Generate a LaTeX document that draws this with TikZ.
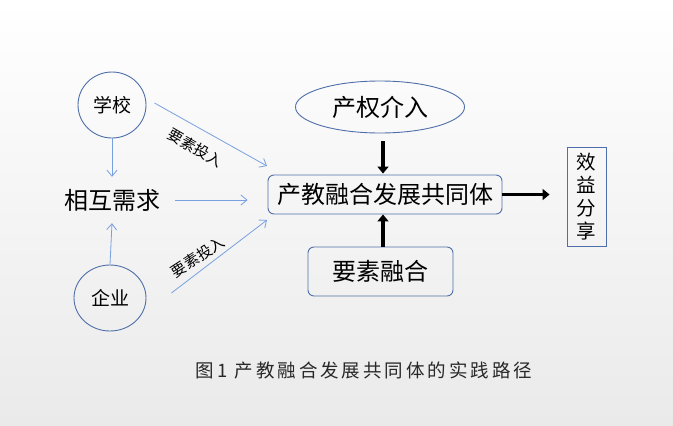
\documentclass[tikz,border=0pt]{standalone}
\usepackage{fontspec}
\newfontfamily\cjk{Noto Sans CJK SC}
\newfontfamily\capfont[LetterSpace=16]{Noto Sans CJK SC}
\usetikzlibrary{shapes.geometric,arrows.meta}
\definecolor{edgeblue}{RGB}{79,111,170}
\definecolor{arrowblue}{RGB}{120,160,225}
\definecolor{bgbot}{RGB}{234,234,234}
\definecolor{captext}{RGB}{40,40,40}
\begin{document}
\begin{tikzpicture}[x=1pt,y=-1pt,
  every node/.style={font=\cjk, inner sep=0pt},
  big/.style={font=\cjk\fontsize{24}{27}\selectfont},
  mid/.style={font=\cjk\fontsize{19}{22}\selectfont},
  small/.style={font=\cjk\fontsize{15}{17}\selectfont},
  oval/.style={ellipse, draw=edgeblue, line width=0.9pt},
  rbox/.style={rectangle, rounded corners=6pt, draw=edgeblue, line width=0.9pt},
  sbox/.style={rectangle, draw=edgeblue, line width=0.9pt},
  thinarrow/.style={draw=arrowblue, line width=0.8pt, -{Straight Barb[length=6pt,width=10pt]}},
  thickarrow/.style={draw=black, line width=3.5pt, -{Triangle[length=7pt,width=11pt]}},
]
\shade[top color=white, bottom color=bgbot] (0,0) rectangle (673,426);
\useasboundingbox (0,0) rectangle (673,426);

\node[oval, mid, minimum width=68pt, minimum height=66pt] (school) at (112,105) {学校};
\node[oval, mid, minimum width=72pt, minimum height=66pt] (firm) at (110,298) {企业};
\node[big, minimum width=126pt, minimum height=46pt] (demand) at (112,200) {相互需求};

\node[oval, big, minimum width=169pt, minimum height=52pt] (prop) at (380,107) {产权介入};
\node[rbox, big, minimum width=234pt, minimum height=39pt] (main) at (385,194.5) {产教融合发展共同体};
\node[rbox, big, minimum width=145pt, minimum height=49pt] (elem) at (380.5,271.5) {要素融合};
\node[sbox, minimum width=39pt, minimum height=99pt, align=center, font=\cjk\fontsize{19.5}{23}\selectfont] (share) at (586.5,196.5) {效\\益\\分\\享};

\coordinate (in1) at (267,166);
\coordinate (in3) at (267,220);

\draw[thinarrow] (school.south) -- (demand.north);
\draw[thinarrow] (firm.north) -- (demand.south);
\draw[thinarrow, shorten >=20pt] (demand.east) -- (demand.east -| main.west);
\draw[thinarrow] ([shift={(8,-2)}]school.east) -- (in1);
\draw[thinarrow] ([shift={(25,-5)}]firm.east) -- (in3);

\node[small, rotate=-30] (lab1) at (195,148) {要素投入};
\node[small, rotate=33] (lab2) at (198,257) {要素投入};

\draw[thickarrow, shorten <=8pt, shorten >=1pt] ([xshift=3pt]prop.south) -- ([xshift=3pt]prop.south |- main.north);
\draw[thickarrow] ([xshift=2.5pt]elem.north) -- ([xshift=2.5pt]elem.north |- main.south);
\draw[thickarrow, shorten >=17pt] (main.east) -- (main.east -| share.west);

\node[font=\capfont\fontsize{18.5}{20}\selectfont, text=captext] (cap) at (364,370) {图1 产教融合发展共同体的实践路径};
\end{tikzpicture}
\end{document}
